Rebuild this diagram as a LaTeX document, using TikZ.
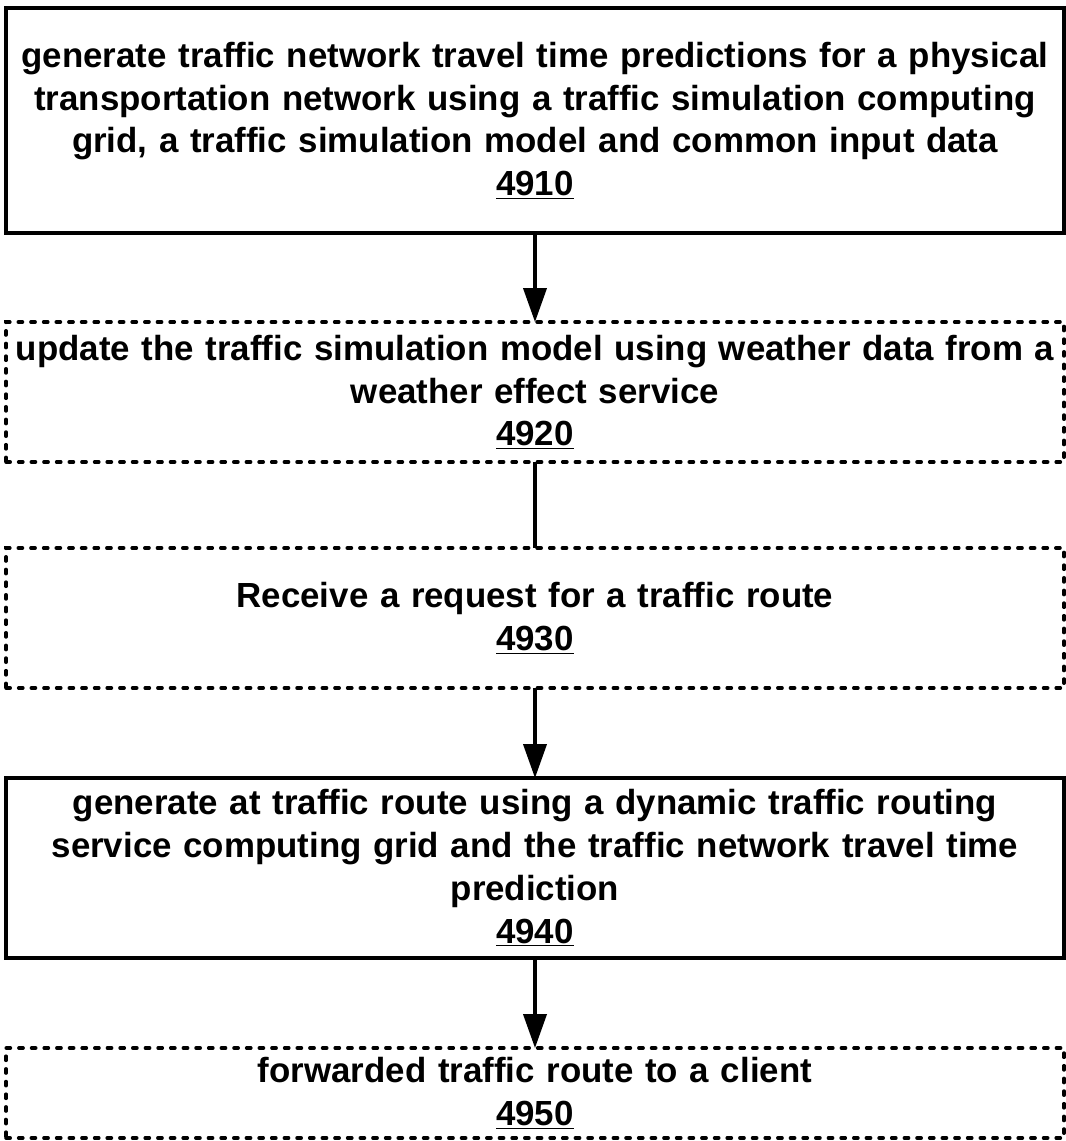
\documentclass[tikz,border=0pt]{standalone}
\usepackage{fontspec}
\setmainfont{Liberation Sans}
\usepackage{tikz}
\usetikzlibrary{arrows.meta,positioning}
\hyphenpenalty=10000

\begin{document}
\begin{tikzpicture}[node distance=2.2cm, >={Triangle[length=0.85cm,width=0.58cm]},
    solidstep/.style={draw, line width=2.6pt, rectangle, outer sep=0pt, inner xsep=0pt, minimum width=26.45cm, text width=26.4cm, align=center, font=\bfseries\fontsize{24.8}{30.5}\selectfont},
    optstep/.style={solidstep, line width=2.5pt, dash pattern=on 3pt off 6pt, line cap=round},
    flow/.style={line width=2.4pt}]
    \useasboundingbox (0,0) rectangle (26.65,-28.525);
    % Steps
    \node [solidstep, minimum height=5.625cm] (s4910) at (13.375,-3.0125) {generate traffic network travel time predictions for a physical transportation network using a traffic simulation computing grid, a traffic simulation model and common input data\\\underline{4910}};
    \node [optstep, minimum height=3.5cm, below=2.225cm of s4910] (s4920) {update the traffic simulation model using weather data from a\\weather effect service\\\underline{4920}};
    \node [optstep, minimum height=3.5cm, below=2.15cm of s4920] (s4930) {Receive a request for a traffic route\\\underline{4930}};
    \node [solidstep, minimum height=4.5cm, below=2.25cm of s4930] (s4940) {generate at traffic route using a dynamic traffic routing\\service computing grid and the traffic network travel time\\prediction\\\underline{4940}};
    \node [optstep, minimum height=2.25cm, below=2.25cm of s4940] (s4950) {forwarded traffic route to a client\\\underline{4950}};

    % Connectors
    \draw [->, flow] (s4910) -- (s4920);
    \draw [flow] (s4920) -- (s4930);
    \draw [->, flow] (s4930) -- (s4940);
    \draw [->, flow] (s4940) -- (s4950);
\end{tikzpicture}
\end{document}
